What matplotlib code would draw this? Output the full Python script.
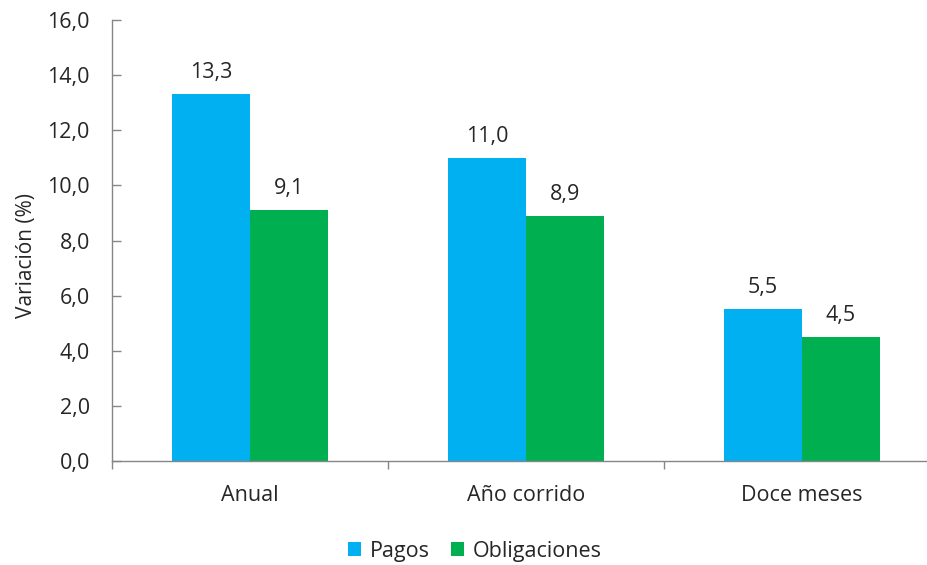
import numpy as np
import matplotlib
matplotlib.use("Agg")
import matplotlib.pyplot as plt

# datos
categorias = ["Anual", "Año corrido", "Doce meses"]
pagos = [13.3, 11.0, 5.5]
obligaciones = [9.1, 8.9, 4.5]
series_nombres = ["Pagos", "Obligaciones"]
y_ticks = [0, 2, 4, 6, 8, 10, 12, 14, 16]

azul = "#00B0F0"
verde = "#00B050"
gris_texto = "#262626"
gris_eje = "#868686"

plt.rcParams["font.family"] = ["Open Sans", "DejaVu Sans"]

fig = plt.figure(figsize=(9.27, 5.65), dpi=100)
ax = fig.add_axes([112 / 927, 104 / 565, 1 - 112 / 927, 441 / 565])

x = np.arange(len(categorias))
ancho = 78 / 276

b1 = ax.bar(x - ancho / 2, pagos, ancho, color=azul, label=series_nombres[0])
b2 = ax.bar(x + ancho / 2, obligaciones, ancho, color=verde, label=series_nombres[1])

for barras in (b1, b2):
    for r in barras:
        v = r.get_height()
        ax.annotate(f"{v:.1f}".replace(".", ","),
                    (r.get_x() + r.get_width() / 2, v),
                    xytext=(0, 8), textcoords="offset points",
                    ha="center", va="bottom", fontsize=15.5, color=gris_texto)

ax.set_ylim(0, 16)
ax.set_xlim(-0.5, 2.5 - 13 / 276)
ax.set_yticks(y_ticks)
ax.set_yticklabels([f"{t:.1f}".replace(".", ",") for t in y_ticks])
ax.set_xticks(x)
ax.set_xticklabels(categorias)
# marcas entre categorias
ax.set_xticks([-0.5, 0.5, 1.5], minor=True)
ax.tick_params(axis="x", which="major", length=0, pad=17, labelsize=15.5, labelcolor=gris_texto)
ax.tick_params(axis="x", which="minor", length=6, color=gris_eje, width=1, direction="out")
ax.tick_params(axis="y", length=6.5, color=gris_eje, width=1, labelsize=15.5,
               labelcolor=gris_texto, pad=16, direction="in")

for lado in ("top", "right"):
    ax.spines[lado].set_visible(False)
for lado in ("left", "bottom"):
    ax.spines[lado].set_color(gris_eje)
    ax.spines[lado].set_linewidth(1)

ax.set_ylabel("Variación (%)", fontsize=15, color=gris_texto)
ax.yaxis.set_label_coords(-(112 - 37) / 815, (461 - 255) / 441)

fig.legend(handles=[b1, b2], loc="center", bbox_to_anchor=(475 / 927, 1 - 551 / 565),
           ncol=2, frameon=False, fontsize=15.5, handlelength=0.6, handleheight=0.6,
           handletextpad=0.4, columnspacing=1.0, labelcolor=gris_texto)

fig.savefig("out.png", dpi=100)
